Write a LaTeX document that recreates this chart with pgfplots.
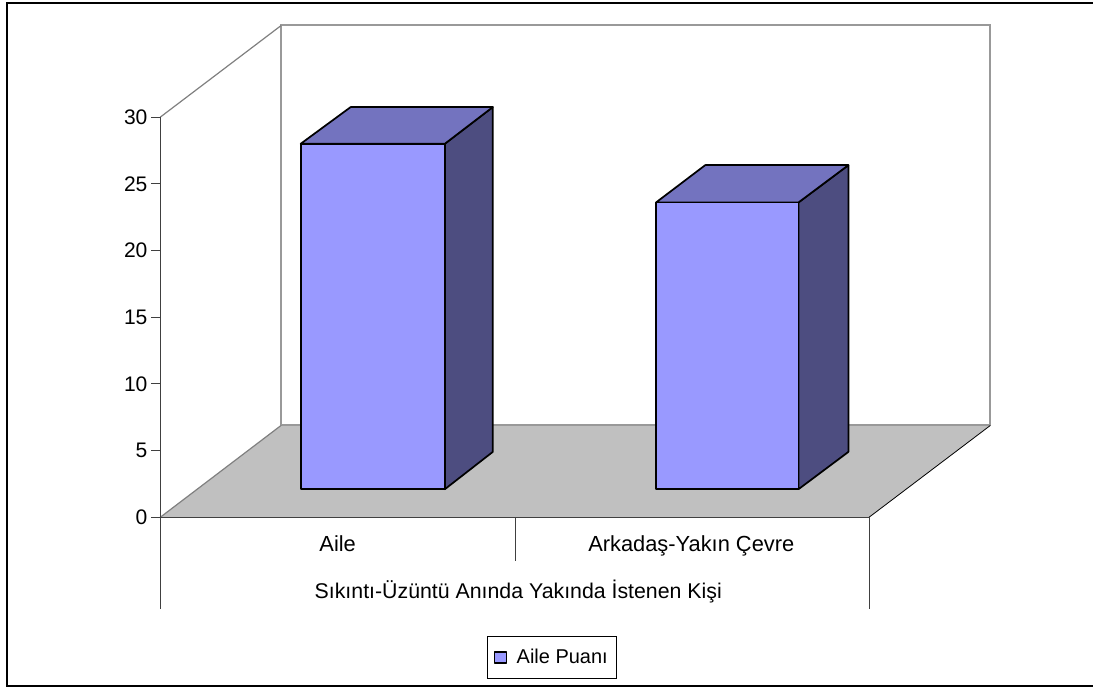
\documentclass[border=0pt]{standalone}
\usepackage{pgfplots}
\pgfplotsset{compat=1.18}
\usepackage{fontspec}
\setmainfont{Liberation Sans}
\definecolor{barfront}{HTML}{9999FF}
\definecolor{bartop}{HTML}{7373BF}
\definecolor{barside}{HTML}{4D4D80}
\definecolor{floorgray}{HTML}{C0C0C0}
\definecolor{wallgray}{HTML}{999999}
\definecolor{edgegray}{HTML}{808080}
\definecolor{axisdark}{HTML}{404040}
\begin{document}
\begin{tikzpicture}
% x runs in drawing units along the front edge of the floor, y in score units.
\begin{axis}[
  scale only axis,
  width=532.1pt,
  height=300.4pt,
  xmin=160.5, xmax=870,
  ymin=0, ymax=30,
  clip=false,
  axis on top,
  axis x line=bottom,
  axis y line=left,
  axis line style={-, draw=axisdark, line width=0.8pt},
  xtick={338,692},
  xticklabels={Aile,Arkadaş-Yakın Çevre},
  x tick style={draw=none},
  xticklabel style={anchor=center, yshift=-14.9pt, text height=11pt, text depth=3pt,
    font=\fontsize{16.4}{18}\selectfont},
  ytick={0,5,10,15,20,25,30},
  y tick style={draw=axisdark, line width=0.8pt},
  major tick length=6.75pt,
  tick align=outside,
  yticklabel style={font=\fontsize{15.8}{18}\selectfont, xshift=0.6pt},
  /pgf/number format/assume math mode=true,
  xlabel={Sıkıntı-Üzüntü Anında Yakında İstenen Kişi},
  x label style={at={(axis description cs:0.505,-0.1855)}, anchor=center,
    font=\fontsize{16}{18}\selectfont},
  legend style={
    at={(axis cs:552.7,-10.51)}, anchor=center,
    draw=black, line width=0.6pt,
    font=\fontsize{15}{18}\selectfont,
    inner xsep=4.5pt, inner ysep=7.5pt,
  },
  legend image code/.code={
    \draw[fill=barfront, draw=black, line width=1.1pt]
      (0pt,-4.1pt) rectangle (8.8pt,4.1pt);
    \path (14pt,0pt);
  },
]
% page ground and outer frame
\addplot[forget plot, draw=none, fill=white] coordinates {(0,-12.98)(1094,-12.98)(1094,38.78)(0,38.78)} --cycle;
\addplot[forget plot, black, line width=1.7pt] coordinates {(1094,38.55)(7,38.55)(7,-12.68)(1094,-12.68)};

% back wall, left wall, floor
\addplot[forget plot, wallgray, line width=1.5pt] coordinates {(281.5,6.89)(281.5,36.87)(991.5,36.87)(991.5,6.89)};
\addplot[forget plot, edgegray, line width=0.9pt] coordinates {(160.5,30)(281.5,36.87)};
\addplot[forget plot, draw=none, fill=floorgray] coordinates {(160.5,0)(281.5,6.89)(991.5,6.89)(870,0)} --cycle;
\addplot[forget plot, wallgray, line width=1.5pt] coordinates {(281.5,6.89)(991.5,6.89)};
\addplot[forget plot, edgegray, line width=0.9pt] coordinates {(160.5,0)(281.5,6.89)};
\addplot[forget plot, black, line width=0.6pt] coordinates {(870,0)(991.5,6.89)};

% category separators below the floor
\addplot[forget plot, axisdark, line width=0.6pt] coordinates {(160.5,0)(160.5,-6.87)};
\addplot[forget plot, axisdark, line width=0.6pt] coordinates {(516,0)(516,-3.3)};
\addplot[forget plot, axisdark, line width=0.6pt] coordinates {(870,0)(870,-6.87)};

% bar Aile, rising 25.9 above its base at 2.1
\addplot[forget plot, draw=black, line width=1.3pt, line join=round, fill=barside] coordinates {(445.3,2.1)(493.3,4.9)(493.3,30.75)(445.3,28)} --cycle;
\addplot[forget plot, draw=black, line width=1.3pt, line join=round, fill=bartop] coordinates {(301,28)(445.3,28)(493.3,30.75)(351,30.75)} --cycle;
\addplot[draw=black, line width=1.3pt, line join=round, fill=barfront] coordinates {(301,2.1)(445.3,2.1)(445.3,28)(301,28)} --cycle;
\addlegendentry{Aile Puanı}

% bar Arkadaş-Yakın Çevre, rising 21.5 above its base at 2.1
\addplot[forget plot, draw=black, line width=1.3pt, line join=round, fill=barside] coordinates {(799.3,2.1)(849.3,4.9)(849.3,26.4)(799.3,23.6)} --cycle;
\addplot[forget plot, draw=black, line width=1.3pt, line join=round, fill=bartop] coordinates {(656.7,23.6)(799.3,23.6)(849.3,26.4)(706,26.4)} --cycle;
\addplot[forget plot, draw=black, line width=1.3pt, line join=round, fill=barfront] coordinates {(656.7,2.1)(799.3,2.1)(799.3,23.6)(656.7,23.6)} --cycle;
\end{axis}
\end{tikzpicture}
\end{document}
